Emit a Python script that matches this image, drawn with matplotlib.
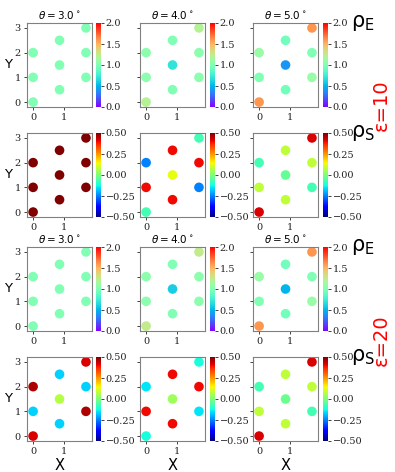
import numpy as np
import matplotlib
matplotlib.use("Agg")
import matplotlib.pyplot as plt

# lattice sites (honeycomb strip)
site_x = [0.0, 0.0, 0.0, 0.866, 0.866, 0.866, 1.732, 1.732, 1.732]
site_y = [0.0, 1.0, 2.0, 0.5, 1.5, 2.5, 1.0, 2.0, 3.0]

thetas = [3.0, 4.0, 5.0]
eps_labels = ["ε=10", "ε=20"]

# rho_E values, eps = 10
rhoE_e10_t3 = [1.0, 1.0, 1.0, 1.0, 1.0, 1.0, 1.0, 1.0, 1.0]
rhoE_e10_t4 = [1.2, 1.05, 1.05, 1.0, 0.7, 1.0, 1.05, 1.05, 1.2]
rhoE_e10_t5 = [1.6, 1.0, 1.1, 0.95, 0.4, 0.95, 1.1, 1.0, 1.6]
# rho_S values, eps = 10
rhoS_e10_t3 = [0.5, 0.5, 0.5, 0.5, 0.5, 0.5, 0.5, 0.5, 0.5]
rhoS_e10_t4 = [-0.07, 0.4, -0.25, 0.4, 0.13, 0.4, -0.25, 0.4, -0.07]
rhoS_e10_t5 = [0.42, 0.08, -0.07, 0.08, -0.03, 0.08, -0.07, 0.08, 0.42]
# rho_E values, eps = 20
rhoE_e20_t3 = [1.0, 1.0, 1.0, 1.0, 1.0, 1.0, 1.0, 1.0, 1.0]
rhoE_e20_t4 = [1.25, 1.05, 1.05, 1.0, 0.6, 1.0, 1.05, 1.05, 1.25]
rhoE_e20_t5 = [1.6, 1.0, 1.1, 0.95, 0.5, 0.95, 1.1, 1.0, 1.6]
# rho_S values, eps = 20
rhoS_e20_t3 = [0.42, -0.17, 0.46, -0.17, 0.07, -0.17, 0.46, -0.17, 0.42]
rhoS_e20_t4 = [-0.12, 0.4, -0.15, 0.4, 0.04, 0.4, -0.15, 0.4, -0.12]
rhoS_e20_t5 = [0.42, 0.08, -0.07, 0.08, -0.02, 0.08, -0.07, 0.08, 0.42]

rows = [
    ("E", [rhoE_e10_t3, rhoE_e10_t4, rhoE_e10_t5]),
    ("S", [rhoS_e10_t3, rhoS_e10_t4, rhoS_e10_t5]),
    ("E", [rhoE_e20_t3, rhoE_e20_t4, rhoE_e20_t5]),
    ("S", [rhoS_e20_t3, rhoS_e20_t4, rhoS_e20_t5]),
]

W, H = 395, 472
fig = plt.figure(figsize=(W / 100, H / 100), dpi=100)

col_left = [27, 140, 253]
cbar_left = [96, 210, 323]
row_top = [23, 133, 247, 357]
ax_w, ax_h = 65, 84
cb_w = 5

def box(x, y, w, h):
    return [x / W, 1 - (y + h) / H, w / W, h / H]

for r, (kind, panels) in enumerate(rows):
    if kind == "E":
        cmap, vmin, vmax = "rainbow", 0.0, 2.0
        cticks = [0.0, 0.5, 1.0, 1.5, 2.0]
    else:
        cmap, vmin, vmax = "jet", -0.5, 0.5
        cticks = [-0.5, -0.25, 0.0, 0.25, 0.5]
    for c in range(3):
        ax = fig.add_axes(box(col_left[c], row_top[r], ax_w, ax_h))
        sc = ax.scatter(site_x, site_y, c=panels[c], cmap=cmap, vmin=vmin, vmax=vmax,
                        s=48, edgecolors="none")
        ax.set_xlim(-0.2, 1.93)
        ax.set_ylim(-0.2, 3.2)
        ax.set_xticks([0, 1])
        ax.set_yticks([0, 1, 2, 3])
        for sp in ax.spines.values():
            sp.set_color("#808080")
        ax.tick_params(labelsize=7, length=2.5, width=0.6, pad=2, colors="#222222")
        for lab in ax.get_xticklabels() + ax.get_yticklabels():
            lab.set_family("DejaVu Serif")
        if c > 0:
            ax.set_yticklabels([])
        else:
            ax.set_ylabel("Y", fontsize=9.5, rotation=0, labelpad=5, va="center")
        if r == 3:
            ax.set_xlabel("X", fontsize=10.5, labelpad=1)
        if kind == "E":
            ax.set_title(r"$\theta = %.1f^\circ$" % thetas[c], fontsize=7.5, pad=3,
                         family="DejaVu Serif")

        cax = fig.add_axes(box(cbar_left[c], row_top[r], cb_w, ax_h))
        cb = fig.colorbar(sc, cax=cax, ticks=cticks)
        cb.outline.set_linewidth(0)
        cax.tick_params(labelsize=7, length=2, width=0.6, pad=1.5, colors="#222222")
        for lab in cax.get_yticklabels():
            lab.set_family("DejaVu Serif")

    # density label at the right side
    fig.text(351 / W, 1 - row_top[r] / H, r"$\mathregular{\rho_%s}$" % kind,
             fontsize=15, ha="left", va="center")

fig.text(381 / W, 1 - 105 / H, eps_labels[0], color="red", fontsize=14,
         rotation=90, ha="center", va="center")
fig.text(381 / W, 1 - 340 / H, eps_labels[1], color="red", fontsize=14,
         rotation=90, ha="center", va="center")

fig.savefig("out.png", dpi=100)
